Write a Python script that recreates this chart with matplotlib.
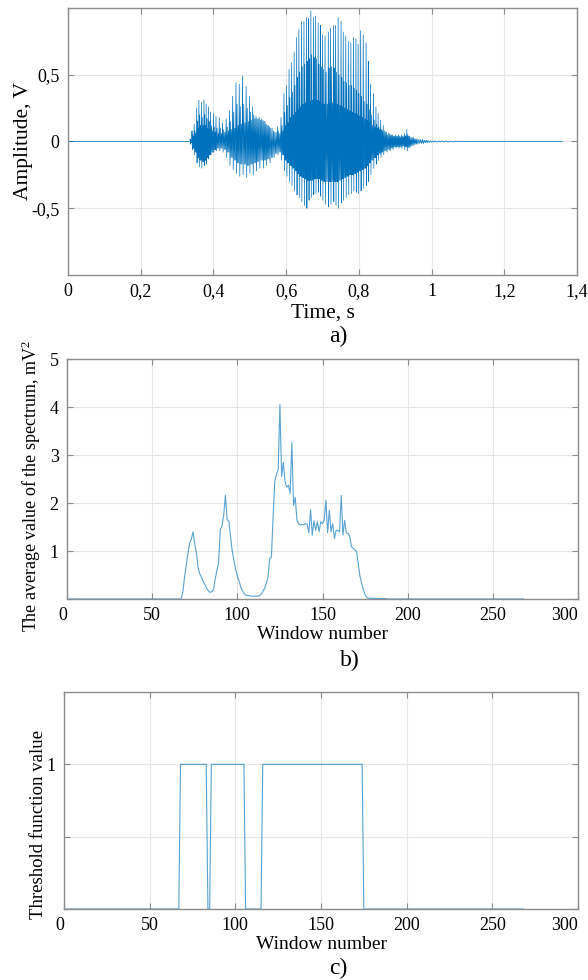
import matplotlib

matplotlib.use("Agg")
import matplotlib.pyplot as plt
import numpy as np

plt.rcParams["font.family"] = ["Liberation Serif", "DejaVu Serif"]
plt.rcParams["mathtext.fontset"] = "custom"
plt.rcParams["mathtext.rm"] = "Liberation Serif"
plt.rcParams["mathtext.it"] = "Liberation Serif:italic"

# ---- panel a): speech waveform, one row per pitch pulse
pulse_t = [
    0.336, 0.341, 0.347, 0.354, 0.360, 0.367, 0.374, 0.380, 0.386, 0.392,
    0.400, 0.407, 0.416, 0.425, 0.435, 0.444, 0.453, 0.462, 0.471, 0.480,
    0.490, 0.499, 0.508, 0.517, 0.526, 0.536, 0.545, 0.554, 0.565, 0.576,
    0.586, 0.594, 0.601, 0.608, 0.615, 0.622, 0.629, 0.635, 0.642, 0.649,
    0.656, 0.662, 0.668, 0.675, 0.681, 0.688, 0.694, 0.700, 0.707, 0.716,
    0.722, 0.730, 0.736, 0.743, 0.751, 0.757, 0.764, 0.771, 0.778, 0.785,
    0.792, 0.798, 0.805, 0.812, 0.820, 0.826, 0.832, 0.840, 0.847, 0.853,
    0.860, 0.867, 0.876, 0.885, 0.893, 0.901, 0.909, 0.917, 0.925, 0.932,
    0.940, 0.950, 0.960, 0.975, 0.990, 1.010, 1.040, 1.080,
]
pulse_hi = [
    0.02, 0.08, 0.13, 0.25, 0.31, 0.29, 0.31, 0.28, 0.26, 0.22,
    0.21, 0.19, 0.18, 0.14, 0.17, 0.23, 0.34, 0.44, 0.43, 0.49,
    0.41, 0.34, 0.26, 0.19, 0.18, 0.16, 0.13, 0.11, 0.08, 0.11,
    0.18, 0.36, 0.42, 0.54, 0.59, 0.67, 0.78, 0.84, 0.90, 0.90,
    0.93, 0.92, 0.98, 0.93, 0.94, 0.89, 0.87, 0.80, 0.79, 0.82,
    0.85, 0.87, 0.87, 0.93, 0.90, 0.82, 0.79, 0.75, 0.74, 0.78,
    0.77, 0.73, 0.83, 0.80, 0.74, 0.60, 0.43, 0.36, 0.26, 0.21,
    0.16, 0.12, 0.07, 0.06, 0.05, 0.05, 0.05, 0.05, 0.06, 0.09,
    0.04, 0.03, 0.02, 0.015, 0.008, 0.005, 0.004, 0.003,
]
pulse_lo = [
    -0.02, -0.06, -0.10, -0.16, -0.19, -0.20, -0.18, -0.17, -0.13, -0.10,
    -0.08, -0.07, -0.07, -0.08, -0.12, -0.18, -0.21, -0.24, -0.26, -0.25,
    -0.27, -0.24, -0.25, -0.22, -0.20, -0.20, -0.18, -0.16, -0.12, -0.10,
    -0.14, -0.22, -0.26, -0.30, -0.33, -0.37, -0.40, -0.42, -0.45, -0.48,
    -0.50, -0.44, -0.42, -0.40, -0.39, -0.38, -0.41, -0.44, -0.47, -0.49,
    -0.47, -0.45, -0.48, -0.50, -0.46, -0.44, -0.42, -0.40, -0.39, -0.37,
    -0.38, -0.39, -0.37, -0.35, -0.33, -0.30, -0.25, -0.20, -0.17, -0.14,
    -0.12, -0.10, -0.08, -0.07, -0.06, -0.05, -0.05, -0.05, -0.06, -0.07,
    -0.04, -0.03, -0.02, -0.015, -0.008, -0.005, -0.004, -0.003,
]
pulse_mid = [
    0.01, 0.05, 0.08, 0.15, 0.20, 0.18, 0.20, 0.17, 0.15, 0.12,
    0.11, 0.10, 0.10, 0.09, 0.11, 0.15, 0.22, 0.28, 0.26, 0.28,
    0.25, 0.22, 0.20, 0.17, 0.16, 0.15, 0.12, 0.10, 0.07, 0.08,
    0.12, 0.22, 0.27, 0.33, 0.37, 0.42, 0.48, 0.52, 0.56, 0.58,
    0.60, 0.62, 0.65, 0.63, 0.62, 0.58, 0.56, 0.54, 0.52, 0.55,
    0.56, 0.55, 0.52, 0.50, 0.48, 0.45, 0.44, 0.42, 0.42, 0.40,
    0.38, 0.36, 0.34, 0.30, 0.28, 0.24, 0.20, 0.16, 0.13, 0.11,
    0.09, 0.08, 0.05, 0.045, 0.04, 0.04, 0.04, 0.04, 0.045, 0.05,
    0.03, 0.02, 0.015, 0.01, 0.006, 0.004, 0.003, 0.002,
]
core_hi = [
    0.01, 0.04, 0.06, 0.10, 0.12, 0.12, 0.12, 0.10, 0.09, 0.08,
    0.07, 0.06, 0.06, 0.07, 0.08, 0.09, 0.10, 0.12, 0.13, 0.14,
    0.15, 0.16, 0.17, 0.17, 0.17, 0.15, 0.12, 0.10, 0.07, 0.06,
    0.08, 0.12, 0.14, 0.18, 0.20, 0.22, 0.24, 0.26, 0.28, 0.29,
    0.30, 0.30, 0.31, 0.31, 0.31, 0.30, 0.29, 0.28, 0.28, 0.29,
    0.29, 0.29, 0.28, 0.27, 0.26, 0.25, 0.24, 0.23, 0.22, 0.21,
    0.20, 0.19, 0.18, 0.17, 0.16, 0.14, 0.12, 0.11, 0.10, 0.09,
    0.08, 0.07, 0.06, 0.05, 0.04, 0.04, 0.035, 0.035, 0.04, 0.04,
    0.03, 0.02, 0.015, 0.01, 0.005, 0.004, 0.003, 0.002,
]
core_lo = [
    -0.01, -0.05, -0.08, -0.12, -0.14, -0.15, -0.14, -0.12, -0.10, -0.08,
    -0.06, -0.05, -0.05, -0.06, -0.08, -0.12, -0.14, -0.16, -0.17, -0.17,
    -0.18, -0.17, -0.16, -0.15, -0.14, -0.14, -0.13, -0.12, -0.09, -0.08,
    -0.10, -0.14, -0.16, -0.18, -0.20, -0.22, -0.24, -0.26, -0.27, -0.28,
    -0.29, -0.29, -0.29, -0.28, -0.28, -0.28, -0.29, -0.30, -0.30, -0.30,
    -0.30, -0.30, -0.30, -0.29, -0.28, -0.27, -0.26, -0.25, -0.25, -0.24,
    -0.23, -0.22, -0.21, -0.20, -0.18, -0.16, -0.14, -0.12, -0.10, -0.09,
    -0.08, -0.07, -0.06, -0.05, -0.04, -0.04, -0.04, -0.035, -0.04, -0.045,
    -0.03, -0.02, -0.015, -0.01, -0.005, -0.004, -0.003, -0.002,
]
signal_end = 1.36

# ---- panel b): mean spectrum per window (zero outside the listed run)
spec_first_window = 66
spec_vals = [
    0.0, 0.0, 0.15, 0.45, 0.70, 0.95, 1.16, 1.25, 1.40, 1.15,
    0.95, 0.65, 0.52, 0.45, 0.36, 0.30, 0.22, 0.17, 0.14, 0.15,
    0.20, 0.42, 0.58, 0.75, 1.45, 1.52, 1.75, 2.16, 1.66, 1.62,
    1.30, 1.00, 0.80, 0.62, 0.48, 0.38, 0.25, 0.17, 0.11, 0.08,
    0.07, 0.07, 0.06, 0.06, 0.06, 0.06, 0.06, 0.07, 0.10, 0.16,
    0.22, 0.33, 0.45, 0.85, 0.87, 1.70, 2.45, 2.60, 2.70, 4.05,
    2.55, 2.85, 2.45, 2.33, 2.37, 2.20, 3.26, 1.95, 2.12, 1.64,
    1.57, 1.54, 1.56, 1.54, 1.57, 1.56, 1.38, 1.86, 1.33, 1.63,
    1.43, 1.61, 1.40, 1.61, 1.57, 1.64, 2.06, 1.38, 1.85, 1.40,
    1.57, 1.26, 1.43, 1.43, 1.40, 2.16, 1.33, 1.64, 1.37, 1.37,
    1.30, 1.09, 1.06, 1.02, 0.99, 0.74, 0.47, 0.33, 0.19, 0.09,
    0.03, 0.015, 0.015, 0.015, 0.012, 0.012, 0.012, 0.01, 0.01, 0.01,
    0.01, 0.01, 0.0,
]
n_windows = 268

# ---- panel c): threshold function, on-runs (inclusive windows)
thr_start = [68, 86, 116]
thr_stop = [83, 105, 174]

BLUE = "#0072BD"
GRID = "#e6e6e6"
FRAME = "#8c8c8c"


def build_waveform():
    t = [0.0, pulse_t[0]]
    y = [0.0, 0.0]
    n = len(pulse_t)
    for i in range(n):
        t0 = pulse_t[i]
        t1 = pulse_t[i + 1] if i + 1 < n else t0 + 0.02
        seq = [pulse_hi[i], pulse_lo[i], pulse_mid[i], core_lo[i],
               core_hi[i], core_lo[i]]
        for k, v in enumerate(seq):
            t.append(t0 + (t1 - t0) * k / len(seq))
            y.append(v)
    t += [pulse_t[-1] + 0.02, signal_end]
    y += [0.0, 0.0]
    return np.array(t), np.array(y)


def style_axes(ax):
    ax.grid(True, color=GRID, linewidth=0.8)
    ax.set_axisbelow(True)
    for sp in ax.spines.values():
        sp.set_color(FRAME)
        sp.set_linewidth(1.0)
    ax.tick_params(direction="in", top=True, right=True, length=4,
                   color=FRAME, labelsize=13, pad=6)


def edge_labels(ax):
    labels = ax.get_xticklabels()
    labels[0].set_horizontalalignment("right")
    labels[-1].set_horizontalalignment("right")


fig = plt.figure(figsize=(5.88, 9.80), dpi=100)

# a)
ax1 = fig.add_axes([68 / 588, 1 - 275 / 980, 509 / 588, 267 / 980])
tw, yw = build_waveform()
ax1.plot(tw, yw, color=BLUE, linewidth=0.5)
ax1.set_xlim(0, 1.4)
ax1.set_ylim(-1, 1)
xt = np.arange(0, 1.41, 0.2)
ax1.set_xticks(xt)
ax1.set_xticklabels(["0", "0,2", "0,4", "0,6", "0,8", "1", "1,2", "1,4"])
ax1.set_yticks([-0.5, 0, 0.5])
ax1.set_yticklabels(["-0,5", "0", "0,5"])
style_axes(ax1)
ax1.set_xlabel("Time, s", fontsize=15.5, labelpad=2)
ax1.set_ylabel("Amplitude, V", fontsize=15.5)
ax1.yaxis.set_label_coords(-0.069, 0.5)
fig.text(338 / 588, 1 - 336 / 980, "a)", fontsize=17, ha="center", va="center")

# b)
windows = np.arange(n_windows + 1)
spectrum = np.zeros(n_windows + 1)
spectrum[spec_first_window:spec_first_window + len(spec_vals)] = spec_vals
ax2 = fig.add_axes([67 / 588, 1 - 599 / 980, 511 / 588, 240 / 980])
ax2.plot(windows, spectrum, color=BLUE, linewidth=0.8, alpha=0.65)
ax2.set_xlim(0, 300)
ax2.set_ylim(0, 5)
ax2.set_xticks(range(0, 301, 50))
ax2.set_yticks([0, 1, 2, 3, 4, 5])
ax2.set_yticklabels(["", "1", "2", "3", "4", "5"])
style_axes(ax2)
edge_labels(ax2)
ax2.set_xlabel("Window number", fontsize=14, labelpad=1)
ax2.set_ylabel("The average value of the spectrum, mV$^{2}$", fontsize=13)
ax2.yaxis.set_label_coords(-0.046, 0.47)
fig.text(350 / 588, 1 - 660 / 980, "b)", fontsize=17, ha="center", va="center")

# c)
threshold = np.zeros(n_windows + 1)
for s, e in zip(thr_start, thr_stop):
    threshold[s:e + 1] = 1.0
ax3 = fig.add_axes([64 / 588, 1 - 909 / 980, 514 / 588, 217 / 980])
ax3.plot(windows, threshold, color=BLUE, linewidth=0.8, alpha=0.65)
ax3.set_xlim(0, 300)
ax3.set_ylim(0, 1.5)
ax3.set_xticks(range(0, 301, 50))
ax3.set_yticks([0, 0.5, 1])
ax3.set_yticklabels(["", "", "1"])
style_axes(ax3)
edge_labels(ax3)
ax3.set_xlabel("Window number", fontsize=14, labelpad=1)
ax3.set_ylabel("Threshold function value", fontsize=13.5)
ax3.yaxis.set_label_coords(-0.033, 0.39)
fig.text(338 / 588, 1 - 968 / 980, "c)", fontsize=17, ha="center", va="center")

fig.savefig("out.png", dpi=100)
